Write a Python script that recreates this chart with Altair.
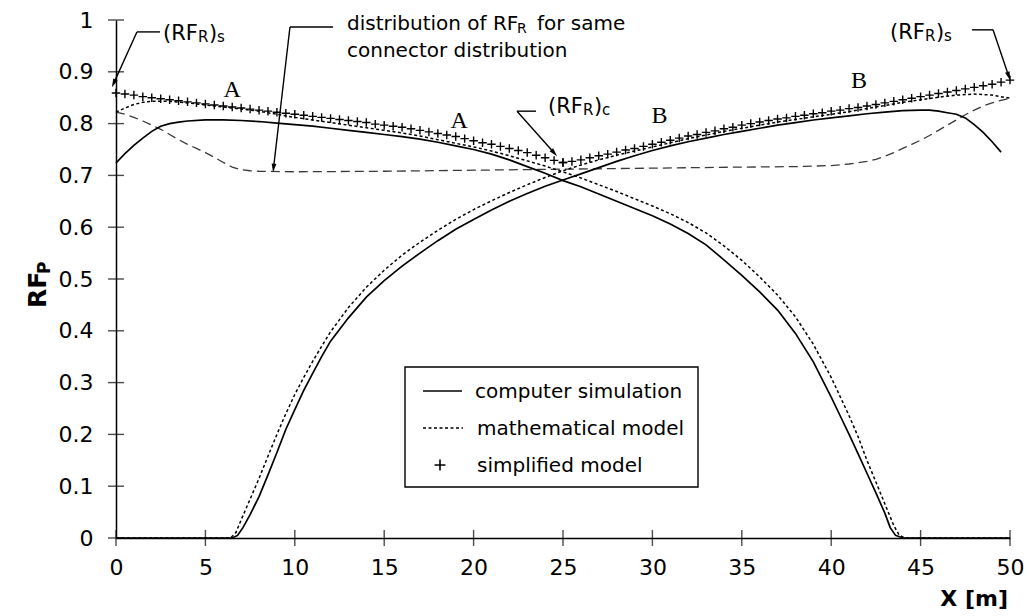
import altair as alt
import pandas as pd

FONT = "DejaVu Sans"
SERIF = "Liberation Serif"
OX, OY = 116, 20          # page position of the plot origin
W, H = 894, 518

# ---------------- data ----------------
x_ticks = [0, 5, 10, 15, 20, 25, 30, 35, 40, 45, 50]
y_ticks = [0, 0.1, 0.2, 0.3, 0.4, 0.5, 0.6, 0.7, 0.8, 0.9, 1.0]

# computer simulation, curve A
sim_a_x = [0, 0.5, 1, 1.5, 2, 2.5, 3, 3.5, 4, 5, 6, 7, 8, 9, 10, 11, 12, 13, 14, 15, 16, 17, 18, 19, 20,
           21, 22, 23, 24, 25, 26, 27, 28, 29, 30, 31, 32, 33, 34, 35, 36, 37, 38, 39, 40,
           40.5, 41, 41.5, 42, 42.5, 43, 43.3, 43.6, 44, 45, 50]
sim_a_y = [0.724, 0.742, 0.758, 0.772, 0.785, 0.795, 0.800, 0.803, 0.805, 0.807, 0.807, 0.806, 0.804,
           0.801, 0.798, 0.795, 0.791, 0.787, 0.783, 0.779, 0.775, 0.770, 0.764, 0.757, 0.750,
           0.741, 0.730, 0.717, 0.704, 0.690, 0.678, 0.664, 0.650, 0.636, 0.622, 0.606, 0.588,
           0.566, 0.537, 0.507, 0.475, 0.440, 0.395, 0.340, 0.272,
           0.236, 0.200, 0.163, 0.125, 0.087, 0.048, 0.020, 0.005, 0.0, 0.0, 0.0]
# computer simulation, curve B
sim_b_x = [0, 6.5, 6.8, 7.1, 7.5, 8, 8.5, 9, 9.5, 10, 10.5, 11, 11.5, 12,
           13, 14, 15, 16, 17, 18, 19, 20, 21, 22, 23, 24, 25, 26, 27, 28, 29, 30, 31, 32, 33, 34,
           35, 36, 37, 38, 39, 40, 41, 42, 43, 44, 45,
           45.5, 46, 46.5, 47, 47.5, 48, 48.5, 49, 49.5]
sim_b_y = [0.0, 0.0, 0.005, 0.020, 0.045, 0.080, 0.122, 0.165, 0.210, 0.248, 0.285, 0.318, 0.350, 0.380,
           0.425, 0.465, 0.497, 0.525, 0.550, 0.574, 0.596, 0.615, 0.633, 0.650, 0.665, 0.679, 0.691,
           0.703, 0.715, 0.727, 0.738, 0.748, 0.757, 0.765, 0.772, 0.779, 0.785, 0.791, 0.797, 0.802,
           0.807, 0.811, 0.815, 0.819, 0.822, 0.825, 0.826,
           0.826, 0.824, 0.821, 0.818, 0.811, 0.798, 0.783, 0.765, 0.745]
# mathematical model, curve A
math_a_x = [0, 0.5, 1, 1.5, 2, 3, 4, 5, 6, 7, 8, 9, 10, 11, 12, 13, 14, 15, 16, 17, 18, 19, 20, 21, 22,
            23, 24, 25, 26, 27, 28, 29, 30, 31, 32, 33, 34, 35, 36, 37, 38, 39, 40,
            40.5, 41, 41.5, 42, 42.5, 43, 43.5, 43.8, 44.1, 50]
math_a_y = [0.822, 0.830, 0.837, 0.841, 0.843, 0.843, 0.840, 0.836, 0.832, 0.828, 0.824, 0.818, 0.812,
            0.807, 0.802, 0.797, 0.792, 0.787, 0.782, 0.776, 0.769, 0.762, 0.755, 0.747, 0.738,
            0.728, 0.718, 0.707, 0.695, 0.682, 0.669, 0.655, 0.641, 0.626, 0.609, 0.589, 0.564,
            0.536, 0.504, 0.469, 0.427, 0.374, 0.310,
            0.273, 0.236, 0.196, 0.150, 0.108, 0.066, 0.024, 0.006, 0.0, 0.0]
# mathematical model, curve B
math_b_x = [0, 6.4, 6.7, 7, 7.5, 8, 8.5, 9, 9.5, 10, 10.5, 11, 11.5, 12,
            13, 14, 15, 16, 17, 18, 19, 20, 21, 22, 23, 24, 25, 26, 27, 28, 29, 30, 31, 32, 33, 34,
            35, 36, 37, 38, 39, 40, 41, 42, 43, 44, 45, 46, 47, 48, 49, 49.5, 50]
math_b_y = [0.0, 0.0, 0.010, 0.035, 0.075, 0.115, 0.158, 0.200, 0.240, 0.277, 0.310, 0.341, 0.370, 0.398,
            0.445, 0.484, 0.517, 0.546, 0.571, 0.594, 0.615, 0.634, 0.651, 0.667, 0.682, 0.696, 0.709,
            0.720, 0.730, 0.739, 0.747, 0.755, 0.763, 0.771, 0.778, 0.785, 0.791, 0.797, 0.803, 0.808,
            0.813, 0.818, 0.823, 0.829, 0.835, 0.841, 0.846, 0.851, 0.855, 0.857, 0.855, 0.852, 0.849]
# distribution of RF_R for same connector distribution
rfr_x = [0, 0.5, 1, 1.5, 2, 2.5, 3, 3.5, 4, 4.5, 5, 5.5, 6, 6.5, 7, 7.5, 8, 10, 15, 20, 25, 30, 35, 38,
         40, 41, 42, 42.5, 43, 43.5, 44, 44.5, 45, 45.5, 46, 46.5, 47, 47.5, 48, 48.5, 49, 49.5, 50]
rfr_y = [0.822, 0.818, 0.812, 0.805, 0.797, 0.789, 0.779, 0.769, 0.760, 0.752, 0.744, 0.735, 0.725,
         0.716, 0.711, 0.709, 0.708, 0.707, 0.708, 0.710, 0.712, 0.714, 0.716, 0.717,
         0.719, 0.722, 0.727, 0.731, 0.737, 0.744, 0.752, 0.760, 0.768, 0.777, 0.787, 0.797, 0.807,
         0.817, 0.826, 0.834, 0.840, 0.845, 0.849]
# simplified model (+ markers), A then B, every 0.5 m
plus_a_x = [i * 0.5 for i in range(51)]
plus_a_y = [0.859, 0.857, 0.855, 0.852, 0.850, 0.848, 0.846, 0.844, 0.842, 0.840, 0.838, 0.836, 0.834,
            0.832, 0.830, 0.828, 0.826, 0.824, 0.822, 0.820, 0.818, 0.816, 0.814, 0.812, 0.810, 0.808,
            0.806, 0.804, 0.802, 0.799, 0.797, 0.795, 0.793, 0.790, 0.787, 0.784, 0.781, 0.778, 0.775,
            0.771, 0.767, 0.763, 0.760, 0.756, 0.752, 0.748, 0.744, 0.739, 0.734, 0.729, 0.725]
plus_b_x = [25 + i * 0.5 for i in range(51)]
plus_b_y = [0.725, 0.727, 0.730, 0.734, 0.738, 0.741, 0.745, 0.749, 0.752, 0.756, 0.760, 0.764, 0.768,
            0.772, 0.776, 0.779, 0.783, 0.786, 0.790, 0.793, 0.797, 0.800, 0.803, 0.806, 0.809, 0.811,
            0.814, 0.816, 0.819, 0.821, 0.824, 0.826, 0.829, 0.831, 0.834, 0.837, 0.840, 0.843, 0.846,
            0.849, 0.852, 0.855, 0.858, 0.861, 0.864, 0.867, 0.870, 0.873, 0.876, 0.880, 0.884]

# curve labels A / B
lab_text = ["A", "A", "B", "B"]
lab_x = [6.5, 19.2, 30.4, 41.55]
lab_y = [0.865, 0.805, 0.815, 0.882]

# annotation leader lines (data coordinates)
lead_x = [1.17, 1.17, 9.73, 9.73, 22.43, 22.43, 47.87, 49.05]
lead_y = [0.977, 0.977, 0.9865, 0.9865, 0.824, 0.824, 0.981, 0.981]
lead_x2 = [2.46, -0.13, 12.14, 8.81, 23.49, 24.51, 49.05, 49.93]
lead_y2 = [0.977, 0.8776, 0.9865, 0.7143, 0.824, 0.7432, 0.981, 0.8915]
# arrow heads
arr_x = [-0.13, 8.81, 24.51, 49.93]
arr_y = [0.8776, 0.7143, 0.7432, 0.8915]
arr_ang = [24.4, 6.7, 318.4, 341.2]

# ---------------- chart ----------------
xs = alt.Scale(domain=[0, 50], nice=False, zero=False)
ys = alt.Scale(domain=[0, 1], nice=False, zero=False)
xaxis = alt.Axis(values=x_ticks, title=None, ticks=False, grid=False, domainColor="black",
                 domainWidth=1.5, labelFont=FONT, labelFontSize=22, labelColor="black",
                 labelPadding=19, labelFlush=False, labelOverlap=False)
yaxis = alt.Axis(values=y_ticks, title=None, ticks=False, grid=False, domainColor="black",
                 domainWidth=1.5, labelFont=FONT, labelFontSize=22, labelColor="black",
                 labelPadding=23, labelFlush=False, labelOverlap=False, format=".1~f")


def X(f="x"):
    return alt.X(f"{f}:Q", scale=xs, axis=xaxis)


def Y(f="y"):
    return alt.Y(f"{f}:Q", scale=ys, axis=yaxis)


def curve(xv, yv, name):
    return pd.DataFrame({"x": xv, "y": yv, "s": name, "o": range(len(xv))})


sim_df = pd.concat([curve(sim_a_x, sim_a_y, "A"), curve(sim_b_x, sim_b_y, "B")])
math_df = pd.concat([curve(math_a_x, math_a_y, "A"), curve(math_b_x, math_b_y, "B")])
rfr_df = curve(rfr_x, rfr_y, "R")
plus_df = pd.concat([curve(plus_a_x, plus_a_y, "A"), curve(plus_b_x, plus_b_y, "B")])

PLUS = "M-1,0L1,0M0,-1L0,1"
ARROW = "M-0.55,-1L0.55,-1L0,1Z"

layers = []
layers.append(alt.Chart(rfr_df).mark_line(color="#3a3a3a", strokeWidth=1.3, strokeDash=[9, 5]).encode(
    x=X(), y=Y(), detail="s:N", order="o:Q"))
layers.append(alt.Chart(math_df).mark_line(color="black", strokeWidth=1.5, strokeDash=[3, 2.5]).encode(
    x=X(), y=Y(), detail="s:N", order="o:Q"))
layers.append(alt.Chart(sim_df).mark_line(color="black", strokeWidth=1.7).encode(
    x=X(), y=Y(), detail="s:N", order="o:Q"))
layers.append(alt.Chart(plus_df).mark_point(shape=PLUS, size=72, filled=False, strokeWidth=1.4,
                                            color="black", opacity=1).encode(x=X(), y=Y()))

# crossing axis ticks
layers.append(alt.Chart(pd.DataFrame({"x": x_ticks, "y": [0] * len(x_ticks)})).mark_tick(
    orient="vertical", size=16, thickness=1.4, color="black").encode(x=X(), y=Y()))
layers.append(alt.Chart(pd.DataFrame({"x": [0] * len(y_ticks), "y": y_ticks})).mark_tick(
    orient="horizontal", size=16, thickness=1.4, color="black").encode(x=X(), y=Y()))

# annotations
layers.append(alt.Chart(pd.DataFrame({"x": lead_x, "y": lead_y, "x2": lead_x2, "y2": lead_y2})).mark_rule(
    color="black", strokeWidth=1.4).encode(x=X(), y=Y(), x2="x2:Q", y2="y2:Q"))
layers.append(alt.Chart(pd.DataFrame({"x": arr_x, "y": arr_y, "a": arr_ang})).mark_point(
    shape=ARROW, size=75, filled=True, color="black", opacity=1).encode(
    x=X(), y=Y(), angle=alt.Angle("a:Q", scale=None)))
layers.append(alt.Chart(pd.DataFrame({"x": lab_x, "y": lab_y, "t": lab_text})).mark_text(
    font=SERIF, fontSize=24, color="black", baseline="middle", align="center").encode(
    x=X(), y=Y(), text="t:N"))

one = pd.DataFrame({"a": [0]})


def ptext(s, px, py, size, align="left", weight="normal", font=FONT, angle=0):
    kw = dict(text=s, align=align, baseline="alphabetic", fontSize=size, fontWeight=weight,
              font=font, color="black")
    if angle:
        kw["angle"] = angle
    return alt.Chart(one).mark_text(**kw).encode(x=alt.value(px - OX), y=alt.value(py - OY))


def rf_label(px, py, sub2):
    return [ptext("(RF", px, py, 21), ptext("R", px + 35, py + 2, 15),
            ptext(")", px + 46, py, 21), ptext(sub2, px + 54, py + 2, 15)]


layers += rf_label(163, 40, "s")
layers += rf_label(890, 39, "s")
layers += rf_label(548, 113, "c")
layers += [ptext("distribution of RF", 347, 30, 20), ptext("R", 517, 33, 14),
           ptext("for same", 537, 30, 20), ptext("connector distribution", 347, 57, 20)]

# axis titles
layers += [ptext("RF", 46, 308, 25, weight="bold", angle=270),
           ptext("P", 50, 274, 17, weight="bold", angle=270),
           ptext("X [m]", 1008, 606, 22, align="right", weight="bold")]

# legend
layers.append(alt.Chart(one).mark_rect(fill="white", stroke="black", strokeWidth=1.4).encode(
    x=alt.value(405 - OX), x2=alt.value(698 - OX), y=alt.value(367 - OY), y2=alt.value(487 - OY)))
layers.append(alt.Chart(one).mark_rule(color="black", strokeWidth=1.6).encode(
    x=alt.value(423 - OX), x2=alt.value(462 - OX), y=alt.value(391 - OY)))
layers.append(alt.Chart(one).mark_rule(color="black", strokeWidth=1.4, strokeDash=[3, 2.5]).encode(
    x=alt.value(423 - OX), x2=alt.value(463 - OX), y=alt.value(428 - OY)))
layers.append(alt.Chart(one).mark_point(shape=PLUS, size=120, filled=False, strokeWidth=1.6,
                                        color="black", opacity=1).encode(
    x=alt.value(440 - OX), y=alt.value(465 - OY)))
layers += [ptext("computer simulation", 475, 398, 20),
           ptext("mathematical model", 477, 435, 20),
           ptext("simplified model", 477, 472, 20)]

chart = alt.layer(*layers).properties(
    width=W, height=H,
    padding={"left": OX, "top": OY, "right": 1029 - OX - W, "bottom": 616 - OY - H},
    autosize=alt.AutoSizeParams(type="none"),
    background="white",
).configure_view(stroke=None)

chart.save("out.html", embed_options={"renderer": "svg", "actions": False})
